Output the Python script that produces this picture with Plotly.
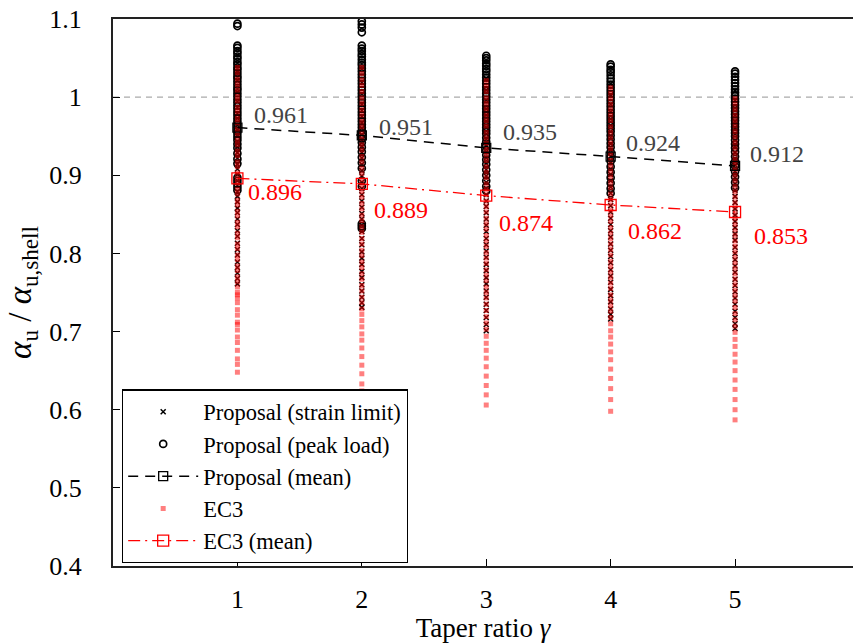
import plotly.graph_objects as go

# Taper ratios
gamma = [1, 2, 3, 4, 5]

# Proposal, strain-limit governed results
strain = {
    1: [1.032, 1.021, 1.006, 0.994, 0.987, 0.979, 0.973, 0.964, 0.958, 0.950, 0.943, 0.936, 0.929, 0.922,
        0.914, 0.908, 0.901, 0.893, 0.887, 0.879, 0.873, 0.866, 0.858, 0.852, 0.844, 0.837, 0.829, 0.822,
        0.813, 0.805, 0.798, 0.789, 0.782, 0.775, 0.768, 0.761],
    2: [1.036, 1.019, 1.004, 0.991, 0.983, 0.975, 0.967, 0.960, 0.952, 0.945, 0.937, 0.929, 0.922, 0.914,
        0.906, 0.899, 0.891, 0.883, 0.875, 0.867, 0.859, 0.851, 0.844, 0.836, 0.828, 0.819, 0.811, 0.802,
        0.794, 0.786, 0.777, 0.769, 0.760, 0.752, 0.744, 0.737, 0.731],
    3: [1.024, 1.009, 0.996, 0.985, 0.977, 0.969, 0.961, 0.953, 0.946, 0.938, 0.930, 0.922, 0.915, 0.907,
        0.899, 0.891, 0.883, 0.875, 0.867, 0.860, 0.852, 0.844, 0.836, 0.828, 0.819, 0.811, 0.803, 0.795,
        0.786, 0.778, 0.769, 0.761, 0.752, 0.744, 0.735, 0.727, 0.718, 0.709, 0.701],
    4: [1.017, 1.003, 0.991, 0.981, 0.972, 0.964, 0.956, 0.948, 0.940, 0.932, 0.924, 0.916, 0.908, 0.901,
        0.893, 0.885, 0.877, 0.869, 0.861, 0.853, 0.845, 0.837, 0.829, 0.821, 0.812, 0.804, 0.796, 0.788,
        0.779, 0.771, 0.763, 0.754, 0.746, 0.738, 0.729, 0.722, 0.716],
    5: [1.008, 0.996, 0.986, 0.977, 0.969, 0.961, 0.953, 0.945, 0.937, 0.929, 0.921, 0.913, 0.905, 0.897,
        0.889, 0.881, 0.873, 0.865, 0.857, 0.849, 0.841, 0.833, 0.825, 0.817, 0.808, 0.800, 0.792, 0.784,
        0.776, 0.767, 0.759, 0.751, 0.743, 0.735, 0.726, 0.718, 0.710, 0.704],
}

# Proposal, peak-load governed results
peak = {
    1: [1.094, 1.091, 1.066, 1.063, 1.059, 1.056, 1.052, 1.049, 1.045, 1.042, 1.038, 1.035, 1.031, 1.027,
        1.024, 1.020, 1.016, 1.012, 1.009, 1.005, 1.001, 0.997, 0.993, 0.989, 0.985, 0.981, 0.977, 0.973,
        0.969, 0.965, 0.961, 0.957, 0.953, 0.949, 0.945, 0.940, 0.935, 0.928, 0.921, 0.915, 0.897, 0.893,
        0.889, 0.885, 0.881],
    2: [1.097, 1.093, 1.089, 1.083, 1.066, 1.062, 1.059, 1.055, 1.052, 1.048, 1.044, 1.041, 1.037, 1.033,
        1.029, 1.025, 1.021, 1.017, 1.013, 1.009, 1.005, 1.001, 0.997, 0.993, 0.989, 0.985, 0.981, 0.977,
        0.973, 0.969, 0.965, 0.961, 0.957, 0.952, 0.947, 0.942, 0.936, 0.930, 0.923, 0.916, 0.909, 0.893,
        0.886, 0.838, 0.835, 0.832],
    3: [1.053, 1.050, 1.047, 1.043, 1.040, 1.036, 1.033, 1.029, 1.025, 1.021, 1.017, 1.013, 1.009, 1.005,
        1.001, 0.997, 0.993, 0.989, 0.985, 0.981, 0.977, 0.973, 0.969, 0.965, 0.961, 0.957, 0.953, 0.948,
        0.943, 0.938, 0.932, 0.926, 0.920, 0.914, 0.907, 0.900, 0.893, 0.886, 0.880],
    4: [1.042, 1.039, 1.035, 1.032, 1.028, 1.024, 1.020, 1.016, 1.012, 1.008, 1.004, 1.000, 0.996, 0.992,
        0.988, 0.984, 0.980, 0.976, 0.972, 0.968, 0.964, 0.960, 0.956, 0.951, 0.946, 0.941, 0.936, 0.930,
        0.924, 0.918, 0.911, 0.904, 0.897, 0.890, 0.883, 0.877],
    5: [1.033, 1.030, 1.026, 1.022, 1.018, 1.014, 1.010, 1.006, 1.002, 0.998, 0.994, 0.990, 0.986, 0.982,
        0.978, 0.974, 0.970, 0.966, 0.962, 0.958, 0.954, 0.950, 0.945, 0.940, 0.935, 0.930, 0.924, 0.918,
        0.912, 0.905, 0.898, 0.891, 0.884],
}

# EC3 design results
ec3 = {
    1: [1.038, 1.031, 1.023, 1.016, 1.009, 1.001, 0.995, 0.987, 0.981, 0.973, 0.967, 0.959, 0.953, 0.945,
        0.939, 0.931, 0.925, 0.917, 0.911, 0.903, 0.896, 0.890, 0.882, 0.876, 0.868, 0.862, 0.854, 0.848,
        0.840, 0.834, 0.826, 0.820, 0.812, 0.806, 0.798, 0.792, 0.784, 0.778, 0.770, 0.764, 0.757, 0.750,
        0.747, 0.743, 0.737, 0.728, 0.721, 0.712, 0.709, 0.702, 0.693, 0.686, 0.676, 0.665, 0.658, 0.648],
    2: [1.038, 1.030, 1.022, 1.015, 1.007, 0.999, 0.992, 0.984, 0.977, 0.969, 0.962, 0.954, 0.947, 0.939,
        0.932, 0.924, 0.917, 0.909, 0.902, 0.894, 0.887, 0.879, 0.872, 0.864, 0.857, 0.849, 0.842, 0.834,
        0.827, 0.819, 0.812, 0.804, 0.797, 0.789, 0.782, 0.774, 0.767, 0.759, 0.752, 0.744, 0.737, 0.729,
        0.722, 0.714, 0.706, 0.697, 0.689, 0.679, 0.668, 0.657, 0.646, 0.633, 0.624, 0.613],
    3: [1.021, 1.014, 1.007, 0.999, 0.992, 0.985, 0.977, 0.970, 0.963, 0.955, 0.948, 0.941, 0.933, 0.926,
        0.919, 0.911, 0.904, 0.897, 0.889, 0.882, 0.875, 0.867, 0.860, 0.853, 0.845, 0.838, 0.831, 0.823,
        0.816, 0.809, 0.801, 0.794, 0.787, 0.779, 0.772, 0.765, 0.757, 0.750, 0.743, 0.735, 0.727, 0.719,
        0.711, 0.703, 0.694, 0.685, 0.676, 0.666, 0.655, 0.643, 0.631, 0.619, 0.606],
    4: [1.012, 1.005, 0.998, 0.991, 0.984, 0.977, 0.970, 0.962, 0.955, 0.948, 0.941, 0.934, 0.927, 0.919,
        0.912, 0.905, 0.898, 0.891, 0.884, 0.876, 0.869, 0.862, 0.855, 0.848, 0.841, 0.833, 0.826, 0.819,
        0.812, 0.805, 0.798, 0.790, 0.783, 0.776, 0.769, 0.762, 0.755, 0.747, 0.740, 0.733, 0.726, 0.718,
        0.710, 0.701, 0.693, 0.684, 0.674, 0.664, 0.652, 0.640, 0.627, 0.613, 0.598],
    5: [0.998, 0.991, 0.984, 0.977, 0.970, 0.963, 0.956, 0.949, 0.942, 0.935, 0.928, 0.921, 0.914, 0.907,
        0.900, 0.893, 0.886, 0.879, 0.872, 0.865, 0.858, 0.851, 0.844, 0.837, 0.830, 0.823, 0.816, 0.809,
        0.802, 0.795, 0.788, 0.781, 0.774, 0.767, 0.760, 0.753, 0.746, 0.739, 0.731, 0.723, 0.715, 0.707,
        0.699, 0.690, 0.681, 0.671, 0.661, 0.650, 0.638, 0.626, 0.613, 0.600, 0.587],
}

# Mean ratios per taper ratio
proposal_mean = [0.961, 0.951, 0.935, 0.924, 0.912]
ec3_mean = [0.896, 0.889, 0.874, 0.862, 0.853]

# Y-axis ticks
y_ticks = [0.4, 0.5, 0.6, 0.7, 0.8, 0.9, 1.0, 1.1]
y_tick_text = ["0.4", "0.5", "0.6", "0.7", "0.8", "0.9", "1", "1.1"]

FONT = "Liberation Serif"


def flatten(groups):
    xs, ys = [], []
    for g in gamma:
        xs += [g] * len(groups[g])
        ys += groups[g]
    return xs, ys


fig = go.Figure()

sx, sy = flatten(strain)
fig.add_trace(go.Scatter(
    x=sx, y=sy, mode="markers", name="Proposal (strain limit)", legendrank=1,
    marker=dict(symbol="x-thin", size=5, color="black", line=dict(width=1.5, color="black")),
))

px_, py_ = flatten(peak)
fig.add_trace(go.Scatter(
    x=px_, y=py_, mode="markers", name="Proposal (peak load)", legendrank=2,
    marker=dict(symbol="circle-open", size=7, color="black", line=dict(width=1.7)),
))

ex, ey = flatten(ec3)
fig.add_trace(go.Scatter(
    x=ex, y=ey, mode="markers", name="EC3", legendrank=4,
    marker=dict(symbol="square", size=5, color="rgba(255,0,0,0.5)", line=dict(width=0)),
))

fig.add_trace(go.Scatter(
    x=gamma, y=proposal_mean, mode="lines+markers", name="Proposal (mean)", legendrank=3,
    line=dict(color="black", width=1.5, dash="10px,7px"),
    marker=dict(symbol="square-open", size=9, color="black", line=dict(width=1.3)),
))

fig.add_trace(go.Scatter(
    x=gamma, y=ec3_mean, mode="lines+markers", name="EC3 (mean)", legendrank=5,
    line=dict(color="red", width=1.3, dash="12px,5px,2px,5px"),
    marker=dict(symbol="square-open", size=11, color="red", line=dict(width=1.3)),
))

# Value labels next to the mean markers
prop_shift = [(15, 13), (15, 8), (15, 16), (13, 14), (13, 12)]
ec3_shift = [(9, -14), (10, -26), (11, -27), (15, -26), (17, -24)]
for g, v, (dx, dy) in zip(gamma, proposal_mean, prop_shift):
    fig.add_annotation(x=g, y=v, text=f"{v:.3f}", showarrow=False, xanchor="left", yanchor="middle",
                       xshift=dx, yshift=dy, font=dict(family=FONT, size=24, color="#444444"))
for g, v, (dx, dy) in zip(gamma, ec3_mean, ec3_shift):
    fig.add_annotation(x=g, y=v, text=f"{v:.3f}", showarrow=False, xanchor="left", yanchor="middle",
                       xshift=dx, yshift=dy, font=dict(family=FONT, size=24, color="red"))

# Unity reference line
fig.add_shape(type="line", xref="paper", yref="y", x0=0, x1=1, y0=1, y1=1,
              line=dict(color="#aaaaaa", width=1.3, dash="6px,5px"), layer="below")

fig.update_layout(
    width=853, height=643,
    margin=dict(l=113, r=0, t=19, b=77),
    plot_bgcolor="white", paper_bgcolor="white",
    font=dict(family=FONT, color="black", size=24),
    showlegend=True,
    legend=dict(
        x=0.012, y=0.005, xanchor="left", yanchor="bottom",
        bgcolor="white", bordercolor="black", borderwidth=1.3,
        font=dict(family=FONT, size=22.5, color="black"),
        tracegroupgap=0, itemwidth=70,
    ),
)

fig.update_xaxes(
    range=[0, 5.948], tickvals=gamma, ticktext=[str(g) for g in gamma],
    ticks="inside", ticklen=7, tickwidth=1.3, tickcolor="black",
    showline=True, linecolor="#222222", linewidth=2, mirror=True,
    showgrid=False, zeroline=False, ticklabelstandoff=9,
    tickfont=dict(family=FONT, size=26),
    title=dict(text="Taper ratio <i>γ</i>", font=dict(family=FONT, size=27), standoff=4),
)
fig.update_yaxes(
    range=[0.4, 1.1], tickvals=y_ticks, ticktext=y_tick_text,
    ticks="inside", ticklen=7, tickwidth=1.3, tickcolor="black",
    showline=True, linecolor="#222222", linewidth=2,
    showgrid=False, zeroline=False, ticklabelstandoff=24,
    tickfont=dict(family=FONT, size=26),
    title=dict(text="<i>α</i><sub>u</sub> / <i>α</i><sub>u,shell</sub>",
               font=dict(family=FONT, size=33), standoff=8),
)

fig.write_html("out.html")
